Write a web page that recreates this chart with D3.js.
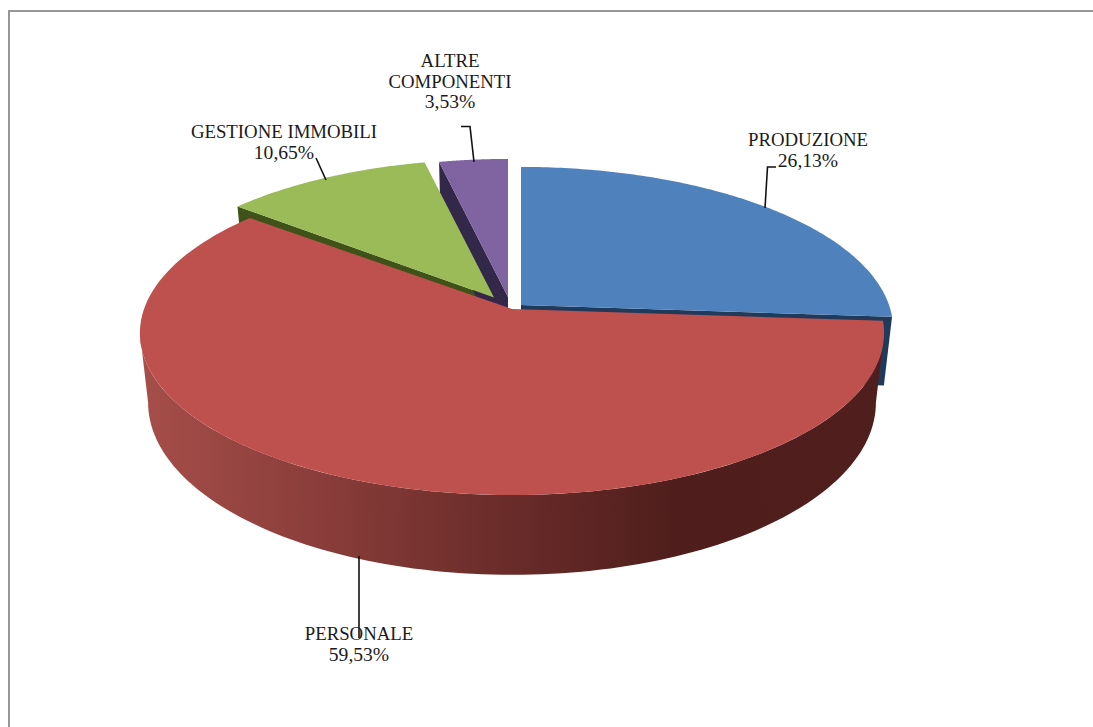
<!DOCTYPE html>
<html><head><meta charset="utf-8">
<script src="https://cdnjs.cloudflare.com/ajax/libs/d3/7.8.5/d3.min.js"></script>
<style>html,body{margin:0;padding:0;background:#fff;overflow:hidden}svg{display:block}text{font-family:"Liberation Serif",serif;font-size:18.8px;fill:#1a1a1a;text-anchor:middle}</style>
</head><body><script>
const categories = ["PRODUZIONE","PERSONALE","GESTIONE IMMOBILI","ALTRE COMPONENTI"];
const values = [26.13,59.53,10.65,3.53];
const labelLines = [["PRODUZIONE","26,13%"],["PERSONALE","59,53%"],["GESTIONE IMMOBILI","10,65%"],["ALTRE","COMPONENTI","3,53%"]];
const topColors = ["#4f81bd","#be504d","#9bbb59","#8064a2"];
const wallColors = ["#1f3a5a","#4c1e1c","#3f5219","#33274a"];
const apexX = [521,512,494,508], apexY = [305,309,297.5,297], radiusX = [368,368,360,358];
const labelX = [808,359,284,450], labelY = [146,640,138,67];
const leaders = [[[765,208],[767.5,167],[776,167]],[[359,556],[359,638]],[[326,180],[316,158]],[[474,162],[470,126.5],[461,126.5]]];
const rampStops = [[0,"#a64e4a"],[.2,"#8f403d"],[.45,"#6f2f2c"],[.72,"#4f1e1c"],[1,"#4f1f1d"]];

const W=1093,H=727,k=.148,RY=158.5,D0=68;
const svg=d3.select("body").append("svg").attr("width",W).attr("height",H);
svg.append("rect").attr("x",9).attr("y",11).attr("width",W+10).attr("height",H+10).attr("fill","#fff").attr("stroke","#8c8c8c").attr("stroke-width",1.8);

const defs=svg.append("defs");
const grad=defs.append("linearGradient").attr("id","side").attr("gradientUnits","userSpaceOnUse").attr("x1",140).attr("x2",884).attr("y1",0).attr("y2",0);
rampStops.forEach(s=>grad.append("stop").attr("offset",s[0]).attr("stop-color",s[1]));

const arcs=d3.pie().value(d=>d).sort(null)(values);
const line=d3.line();
function proj(i,a,r=1){const u=Math.sin(a)*r,v=-Math.cos(a)*r,s=1/(1-k*v);return [apexX[i]+radiusX[i]*u*s,apexY[i]+RY*v*s];}
function low(i,a,r=1){const v=-Math.cos(a)*r,s=1/(1-k*v),p=proj(i,a,r);return [apexX[i]+(p[0]-apexX[i])*.978,p[1]+D0*s];}
function sweep(i,a0,a1,f){const n=120;return d3.range(n+1).map(j=>f(i,a0+(a1-a0)*j/n));}
function rim(i){return sweep(i,arcs[i].startAngle,arcs[i].endAngle,proj);}
const sliceTop=i=>line([[apexX[i],apexY[i]],...rim(i)])+"Z";
function wall(i,a){return line([[apexX[i],apexY[i]],proj(i,a),low(i,a),low(i,a,0)])+"Z";}
const path=(d,fill)=>svg.append("path").attr("d",d).attr("fill",fill);

// back slices
path(wall(2,arcs[2].startAngle),wallColors[2]);
path(wall(3,arcs[3].startAngle),wallColors[3]);
path(sliceTop(3),topColors[3]);
path(sliceTop(2),topColors[2]);
path(wall(0,arcs[0].endAngle),wallColors[0]);
path(sliceTop(0),topColors[0]);
// red body: outer wall between the two silhouette tangents of the rim
const tangent=Math.PI/2+Math.asin(k), a0=tangent, a1=2*Math.PI-tangent;
path(line([...sweep(1,a0,a1,proj),...sweep(1,a0,a1,low).reverse()])+"Z","url(#side)");
path(sliceTop(1),topColors[1]);

// leaders + labels
leaders.forEach(pts=>svg.append("path").attr("d",line(pts)).attr("fill","none").attr("stroke","#111").attr("stroke-width",1.6));
labelLines.forEach((ls,i)=>{ls.forEach((t,j)=>svg.append("text").attr("x",labelX[i]).attr("y",labelY[i]+j*20.7).style("font-size",t.endsWith("%")?"19.6px":null).text(t));});
</script></body></html>
